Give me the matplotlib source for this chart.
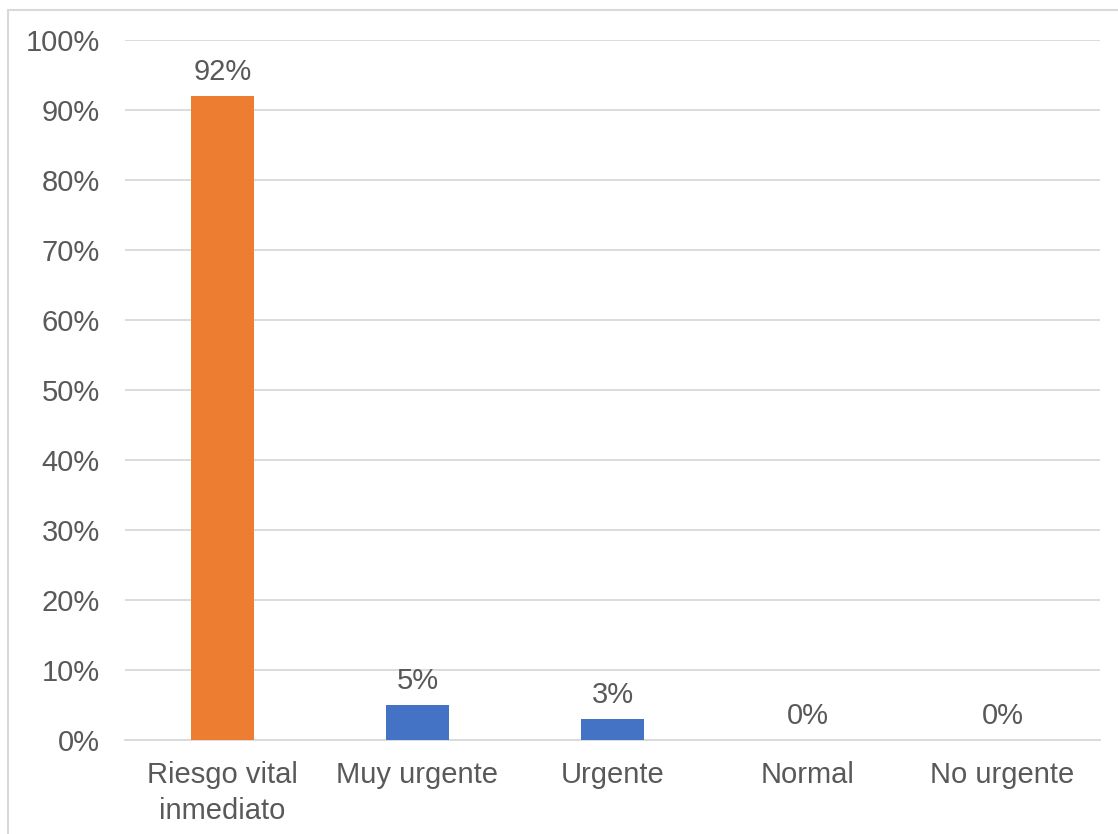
import matplotlib
matplotlib.use("Agg")
import matplotlib.pyplot as plt
from matplotlib.patches import Rectangle
from matplotlib.ticker import FuncFormatter

categories = ["Riesgo vital\ninmediato", "Muy urgente", "Urgente", "Normal", "No urgente"]
values = [92, 5, 3, 0, 0]
bar_colors = ["#ED7D31", "#4472C4", "#4472C4", "#4472C4", "#4472C4"]

W, H = 1118, 834
plt.rcParams["font.family"] = ["Liberation Sans", "DejaVu Sans"]
text_color = "#595959"
grid_color = "#D9D9D9"

fig = plt.figure(figsize=(W / 100, H / 100), dpi=100)
ax = fig.add_axes([125 / W, 1 - 740 / H, 975 / W, 700 / H])

x = list(range(len(categories)))
bars = ax.bar(x, values, width=0.32, color=bar_colors, zorder=3)

ax.set_xlim(-0.5, len(categories) - 0.5)
ax.set_ylim(0, 100)
ax.set_yticks(range(0, 101, 10))
ax.yaxis.set_major_formatter(FuncFormatter(lambda v, _: f"{int(v)}%"))
ax.set_xticks(x)
ax.set_xticklabels(categories, linespacing=1.35)

ax.grid(axis="y", color=grid_color, linewidth=1.3, zorder=0)
for side in ["top", "right", "left"]:
    ax.spines[side].set_visible(False)
ax.spines["bottom"].set_color(grid_color)
ax.spines["bottom"].set_linewidth(1.3)
ax.tick_params(axis="both", length=0, labelsize=21, colors=text_color)
ax.tick_params(axis="y", pad=18)
ax.tick_params(axis="x", pad=15)

for rect, v in zip(bars, values):
    ax.annotate(f"{v}%", (rect.get_x() + rect.get_width() / 2, v),
                xytext=(0, 7), textcoords="offset points",
                ha="center", va="bottom", fontsize=21, color=text_color)

# light chart-area frame
fig.patches.append(Rectangle((8 / W, -0.05), 1.1, 1 - 10 / H + 0.05,
                             transform=fig.transFigure, fill=False,
                             edgecolor=grid_color, linewidth=1.5))

fig.savefig("out.png", dpi=100)
